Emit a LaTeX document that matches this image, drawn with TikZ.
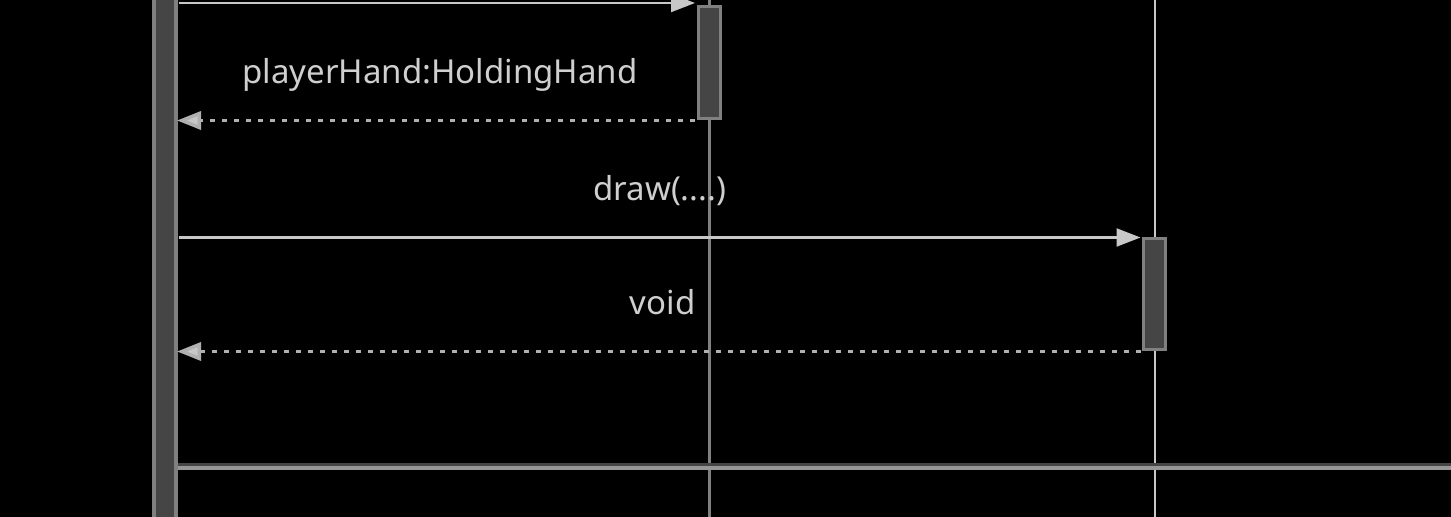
\documentclass[tikz,border=0pt]{standalone}
\usepackage{fontspec}
\setmainfont{Noto Sans}
\usetikzlibrary{arrows.meta}
\definecolor{msgline}{HTML}{C8C8C8}
\definecolor{retline}{HTML}{B0B0B0}
\definecolor{actfill}{HTML}{454545}
\definecolor{actborder}{HTML}{808080}
\definecolor{lbltext}{HTML}{CFCFCF}

\begin{document}
\begin{tikzpicture}[x=0.5pt,y=-0.5pt,
        msg/.style={draw=msgline,line width=1.1pt,-{Triangle[length=12pt,width=9pt,fill=msgline]}},
        ret/.style={draw=retline,line width=1.75pt,dash pattern=on 2.5pt off 3.5pt,-{Triangle[length=12pt,width=9pt,fill=msgline]}},
        act/.style={draw=actborder,fill=actfill,line width=1.5pt,minimum width=11pt,inner sep=0pt},
        lbl/.style={text=lbltext,font=\fontsize{16.5}{19}\selectfont,anchor=base,yshift=18.5pt}]
        \useasboundingbox[fill=black](0,0)rectangle(1451,517);

        % lifelines and the frame line
        \coordinate(midtop)at(709,0);\coordinate(midbot)at(709,517);
        \coordinate(rgttop)at(1155,0);\coordinate(rgtbot)at(1155,517);
        \coordinate(sepl)at(178,464.5);\coordinate(sepr)at(1451,464.5);
        \draw[actborder,line width=1.5pt](midtop)--(midbot);
        \draw[msgline,line width=1.25pt](rgttop)--(rgtbot);
        \draw[actfill,line width=1.5pt](sepl)--(sepr);
        \draw[retline!85!black,line width=2pt]([yshift=-1.75pt]sepl)--([yshift=-1.75pt]sepr);

        % activations
        \node[act,line width=2pt,minimum width=11pt,minimum height=300pt](mainbar)at(165,258.5){};
        \node[act,minimum height=56pt](handact)at(709,63){};
        \node[act,minimum height=55.5pt](drawact)at(1154.5,294.5){};

        % messages
        \draw[msg]([xshift=0.5pt,yshift=1.25pt]mainbar.east|-handact.north west)--([xshift=-0.75pt,yshift=1.25pt]handact.north west);
        \draw[ret]([xshift=-0.75pt]handact.south west)--([xshift=-0.5pt]mainbar.east|-handact.south west)node[lbl,pos=0.5,xshift=2pt]{playerHand:HoldingHand};
        \draw[msg]([xshift=0.5pt]mainbar.east|-drawact.north west)--([xshift=-0.75pt]drawact.north west)node[lbl,pos=0.5]{draw(....)};
        \draw[ret]([xshift=-0.75pt]drawact.south west)--([xshift=-0.5pt]mainbar.east|-drawact.south west)node[lbl,pos=0.5,xshift=2pt]{void};
\end{tikzpicture}
\end{document}
